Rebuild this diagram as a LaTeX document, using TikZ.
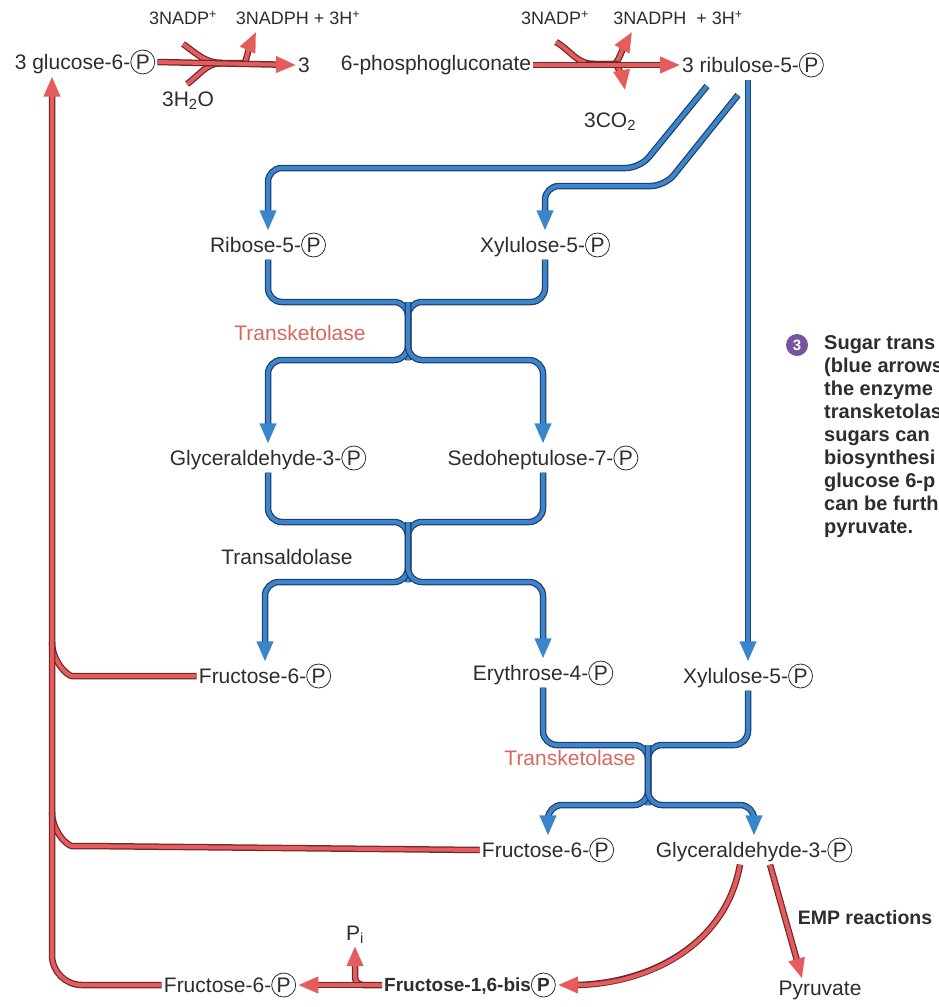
\documentclass[tikz,border=0pt]{standalone}
\usepackage{fontspec}
\setmainfont{Liberation Sans}
\usetikzlibrary{arrows.meta,calc,positioning}

\definecolor{pathblue}{RGB}{58,134,204}
\definecolor{pathred}{RGB}{228,92,92}
\definecolor{blueedge}{RGB}{38,62,104}
\definecolor{rededge}{RGB}{112,40,44}
\definecolor{enzred}{RGB}{214,104,94}
\definecolor{txt}{RGB}{45,45,45}
\definecolor{notepurple}{RGB}{118,84,160}

\newcommand{\Pc}{\tikz[baseline=(pcirc.base)]\node[draw,circle,inner sep=0pt,minimum size=24pt,line width=0.8pt](pcirc){P};}

\tikzset{
  lbl/.style={text=txt,font=\fontsize{21}{24}\selectfont,inner sep=2pt},
  cof/.style={lbl,font=\fontsize{18}{22}\selectfont},
  flow/.style={line width=4pt,rounded corners=14pt},
  bluepipe/.style={flow,draw=pathblue,preaction={draw=blueedge,line width=6.5pt}},
  blueflow/.style={flow,draw=pathblue,-{Triangle[length=20pt,width=16pt]},
    preaction={draw=blueedge,line width=6.5pt,arrows=-,shorten >=15pt}},
  redpipe/.style={flow,draw=pathred,preaction={draw=rededge,line width=6.5pt}},
  redflow/.style={flow,draw=pathred,-{Triangle[length=20pt,width=16pt]},
    preaction={draw=rededge,line width=6.5pt,arrows=-,shorten >=15pt}},
}

\begin{document}
\begin{tikzpicture}[x=1pt,y=-1pt]
\useasboundingbox (0,0) rectangle (938,1007);
% oxidative part
\node[lbl] (glc) at (85,62) {3 glucose-6-\Pc};
\node[lbl] (three) at (304,65) {3};
\node[lbl] (pg) at (436,65) {6-phosphogluconate};
\node[lbl] (ru) at (753,65) {3 ribulose-5-\Pc};
\node[cof] (nadpA) at (183,18) {3NADP\textsuperscript{+}};
\node[cof] (nadphA) at (298,18) {3NADPH + 3H\textsuperscript{+}};
\node[lbl] (h2o) at (188,101) {3H\textsubscript{2}O};
\node[cof] (nadpB) at (555,18) {3NADP\textsuperscript{+}};
\node[cof] (nadphB) at (678,18) {3NADPH\ \ + 3H\textsuperscript{+}};
\node[lbl] (co2) at (610,122) {3CO\textsubscript{2}};
% sugar interconversions
\node[lbl] (rib) at (268,245) {Ribose-5-\Pc};
\node[lbl] (xylA) at (545,245) {Xylulose-5-\Pc};
\node[lbl] (gapA) at (268,458) {Glyceraldehyde-3-\Pc};
\node[lbl] (sed) at (543,458) {Sedoheptulose-7-\Pc};
\node[lbl] (f6pA) at (265,676) {Fructose-6-\Pc};
\node[lbl] (e4p) at (543,673) {Erythrose-4-\Pc};
\node[lbl] (xylB) at (748,676) {Xylulose-5-\Pc};
\node[lbl] (f6pB) at (548,850) {Fructose-6-\Pc};
\node[lbl] (gapB) at (754,850) {Glyceraldehyde-3-\Pc};
\node[lbl] (f6pC) at (230,985) {Fructose-6-\Pc};
\node[lbl,font=\bfseries\fontsize{19}{24}\selectfont] (fbp) at (470,985) {Fructose-1,6-bis\Pc};
\node[lbl] (pi) at (355,935) {P\textsubscript{i}};
\node[lbl] (pyr) at (820,990) {Pyruvate};
\node[lbl,font=\bfseries\fontsize{19.5}{24}\selectfont] (emp) at (865,918) {EMP reactions};
\node[lbl,text=enzred] (tkA) at (300,333) {Transketolase};
\node[lbl] (ta) at (287,557) {Transaldolase};
\node[lbl,text=enzred] (tkB) at (570,758) {Transketolase};
% note
\node[circle,fill=notepurple,text=white,inner sep=0pt,minimum size=22pt,font=\bfseries\fontsize{15}{15}\selectfont] (num) at (797,345) {3};
\node[lbl,anchor=north west,align=left,font=\bfseries\fontsize{20}{23}\selectfont] (note) at (822,333)
  {Sugar trans\\(blue arrows\\the enzyme\\transketolas\\sugars can\\biosynthesi\\glucose 6-p\\can be furth\\pyruvate.};

% red reactions at the top
\coordinate (inA) at (183,44); \coordinate (inB) at (187,84); \coordinate (mA) at (222,63);
\coordinate (tipA) at (256,32);
\draw[redpipe] (inA) to[out=-35,in=180] (mA);
\draw[redpipe] (inB) to[out=35,in=180] (mA);
\draw[redflow] (mA) -- (230,63) to[out=0,in=-115] (tipA);
\draw[redflow] (glc.east) -- (three.west);
\coordinate (inC) at (556,42); \coordinate (mB) at (594,64);
\coordinate (tipB) at (632,32); \coordinate (tipC) at (625,90);
\draw[redpipe] (inC) to[out=-30,in=180] (mB);
\draw[redflow] (mB) -- (600,64) to[out=0,in=-120] (tipB);
\draw[redflow] (mB) -- (602,64) to[out=0,in=100] (tipC);
\draw[redflow] (pg.east) -- (ru.west);

% blue: ribulose split
\coordinate (ruA) at (707,86); \coordinate (ruB) at (738,95); \coordinate (ruC) at (748,80);
\draw[blueflow] (ruA) -- (640,168) -| (rib.north);
\draw[blueflow] (ruB) -- (665,186) -| (xylA.north);
\draw[blueflow] (ruC) -- (xylB.north);
% transketolase 1
\coordinate (k1) at (408,302); \coordinate (k1b) at (408,360);
\draw[bluepipe] (rib.south) |- (k1) -- (k1b);
\draw[bluepipe] (xylA.south) |- (k1) -- (k1b);
\draw[blueflow] (k1) -- (k1b) -| (gapA.north);
\draw[blueflow] (k1) -- (k1b) -| (sed.north);
% transaldolase
\coordinate (k2) at (408,522); \coordinate (k2b) at (408,582);
\draw[bluepipe] (gapA.south) |- (k2) -- (k2b);
\draw[bluepipe] (sed.south) |- (k2) -- (k2b);
\draw[blueflow] (k2) -- (k2b) -| (f6pA.north);
\draw[blueflow] (k2) -- (k2b) -| (e4p.north);
% transketolase 2
\coordinate (k3) at (648,745); \coordinate (k3b) at (648,805);
\draw[bluepipe] (e4p.south) |- (k3) -- (k3b);
\draw[bluepipe] (xylB.south) |- (k3) -- (k3b);
\draw[blueflow] (k3) -- (k3b) -| (f6pB.north);
\draw[blueflow] (k3) -- (k3b) -| (gapB.north);

% red: back to glucose-6-P
\coordinate (trunk) at (52,500);
\draw[redpipe] (f6pA.west) -- (86,676) to[out=180,in=-90] (52,642);
\draw[redpipe] (f6pB.west) -- (86,846) to[out=180,in=-90] (52,812);
\draw[redflow,rounded corners=30pt] (f6pC.west) -| (glc.south -| trunk);
\draw[redflow,rounded corners=8pt] (fbp.west) -| (pi.south);
\draw[redflow] (fbp.west) -- (f6pC.east);
\draw[redflow] ($(gapB.south)+(-14,0)$) to[out=-100,in=0] (fbp.east);
\draw[redflow] ($(gapB.south)+(16,0)$) -- ($(pyr.north)+(-18,0)$);
\end{tikzpicture}
\end{document}
